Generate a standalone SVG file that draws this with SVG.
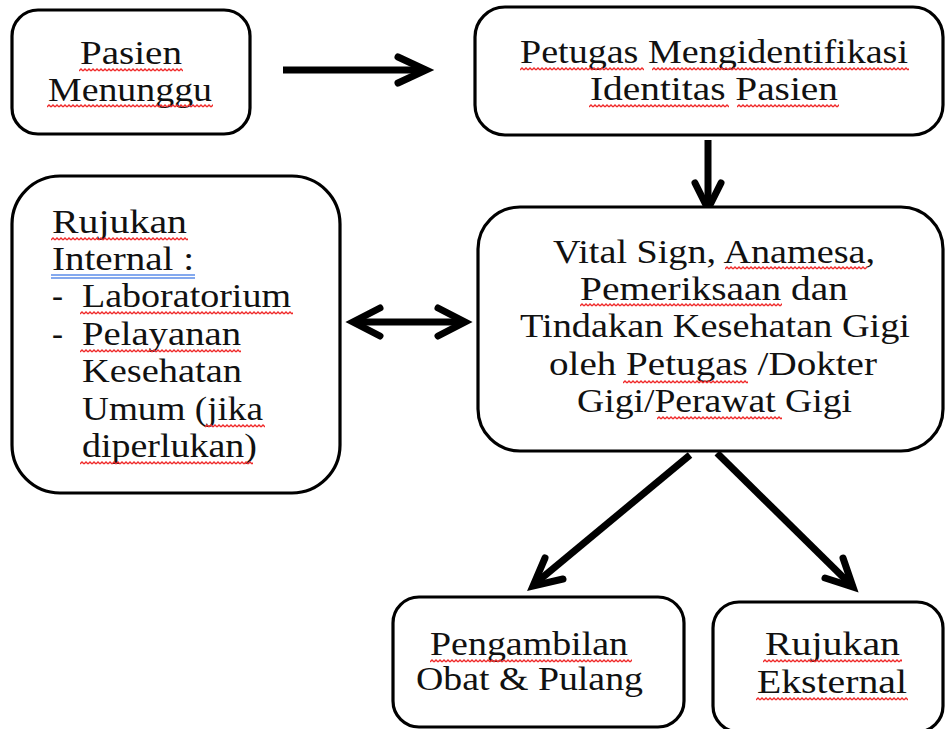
<svg xmlns="http://www.w3.org/2000/svg" width="945" height="729" viewBox="0 0 945 729">
<defs>
<pattern id="wave" patternUnits="userSpaceOnUse" x="0" y="0" width="4" height="4">
  <path d="M0 3 L2 1 L4 3" fill="none" stroke="#f02a2a" stroke-width="1.3"/>
</pattern>
</defs>
<style>
.box{fill:#fff;stroke:#000;stroke-width:3.2}
.t{font-family:"Liberation Serif","Times New Roman",serif;font-size:33px;fill:#111}
.w{fill:url(#wave)}
.gr{stroke:#5b8de8;stroke-width:1.3}
.shaft{fill:none;stroke:#000;stroke-width:7;stroke-linecap:butt}
.head{fill:none;stroke:#000;stroke-width:7;stroke-linecap:round;stroke-linejoin:miter;stroke-miterlimit:10}
</style>
<rect width="945" height="729" fill="#fff"/>
<g id="connectors">
  <line class="shaft" x1="283" y1="70" x2="422" y2="70"/>
  <polyline class="head" points="398,57 426,70 398,83"/>
  <line class="shaft" x1="708" y1="140" x2="708" y2="205"/>
  <polyline class="head" points="695,183 708,209 721,183"/>
  <line class="shaft" x1="357" y1="322" x2="461" y2="322"/>
  <polyline class="head" points="380,308 353,322 380,336"/>
  <polyline class="head" points="438,308 465,322 438,336"/>
  <line class="shaft" x1="690" y1="455" x2="537" y2="582"/>
  <polyline class="head" points="545,558 533,586 563,579"/>
  <line class="shaft" x1="717" y1="453" x2="849" y2="583"/>
  <polyline class="head" points="843,558 853,587 825,578"/>
</g>
<g id="pasien-menunggu">
  <rect class="box" x="12" y="10" width="238" height="124" rx="26"/>
  <text class="t" x="80" y="64" textLength="102" lengthAdjust="spacingAndGlyphs">Pasien</text>
  <text class="t" x="48" y="101" textLength="164" lengthAdjust="spacingAndGlyphs">Menunggu</text>
  <rect class="w" transform="translate(79,68)" width="104" height="4"/>
  <rect class="w" transform="translate(47,104)" width="166" height="4"/>
</g>
<g id="petugas-identifikasi">
  <rect class="box" x="475" y="7" width="468" height="128" rx="30"/>
  <text class="t" x="520" y="63" textLength="388" lengthAdjust="spacingAndGlyphs">Petugas Mengidentifikasi</text>
  <text class="t" x="590" y="100" textLength="248" lengthAdjust="spacingAndGlyphs">Identitas Pasien</text>
  <rect class="w" transform="translate(520,67)" width="124" height="4"/>
  <rect class="w" transform="translate(652,67)" width="257" height="4"/>
  <rect class="w" transform="translate(589,104)" width="140" height="4"/>
  <rect class="w" transform="translate(737,104)" width="102" height="4"/>
</g>
<g id="pemeriksaan">
  <rect class="box" x="478" y="207" width="465" height="244" rx="42"/>
  <text class="t" x="553" y="263" textLength="322" lengthAdjust="spacingAndGlyphs">Vital Sign, Anamesa,</text>
  <text class="t" x="580" y="300" textLength="268" lengthAdjust="spacingAndGlyphs">Pemeriksaan dan</text>
  <text class="t" x="520" y="337" textLength="390" lengthAdjust="spacingAndGlyphs">Tindakan Kesehatan Gigi</text>
  <text class="t" x="549" y="375" textLength="328" lengthAdjust="spacingAndGlyphs">oleh Petugas /Dokter</text>
  <text class="t" x="577" y="412" textLength="275" lengthAdjust="spacingAndGlyphs">Gigi/Perawat Gigi</text>
  <rect class="w" transform="translate(725,266)" width="142" height="4"/>
  <rect class="w" transform="translate(580,303)" width="202" height="4"/>
  <rect class="w" transform="translate(623,380)" width="125" height="4"/>
  <rect class="w" transform="translate(657,416)" width="125" height="4"/>
</g>
<g id="rujukan-internal">
  <rect class="box" x="12" y="176" width="328" height="317" rx="48"/>
  <text class="t" x="52" y="233" textLength="135" lengthAdjust="spacingAndGlyphs">Rujukan</text>
  <text class="t" x="52" y="270" textLength="142" lengthAdjust="spacingAndGlyphs">Internal :</text>
  <text class="t" x="52" y="307">-</text>
  <text class="t" x="82" y="307" textLength="209" lengthAdjust="spacingAndGlyphs">Laboratorium</text>
  <text class="t" x="52" y="345">-</text>
  <text class="t" x="82" y="345" textLength="159" lengthAdjust="spacingAndGlyphs">Pelayanan</text>
  <text class="t" x="82" y="382" textLength="160" lengthAdjust="spacingAndGlyphs">Kesehatan</text>
  <text class="t" x="82" y="420" textLength="181" lengthAdjust="spacingAndGlyphs">Umum (jika</text>
  <text class="t" x="82" y="457" textLength="175" lengthAdjust="spacingAndGlyphs">diperlukan)</text>
  <rect class="w" transform="translate(51,237)" width="137" height="4"/>
  <line class="gr" x1="51" y1="275" x2="195" y2="275"/>
  <line class="gr" x1="51" y1="278" x2="195" y2="278"/>
  <rect class="w" transform="translate(80,311)" width="213" height="4"/>
  <rect class="w" transform="translate(80,349)" width="161" height="4"/>
  <rect class="w" transform="translate(205,424)" width="60" height="4"/>
  <rect class="w" transform="translate(80,461)" width="173" height="4"/>
</g>
<g id="pengambilan-obat">
  <rect class="box" x="393" y="597" width="291" height="130" rx="26"/>
  <text class="t" x="430" y="655" textLength="198" lengthAdjust="spacingAndGlyphs">Pengambilan</text>
  <text class="t" x="416" y="690" textLength="227" lengthAdjust="spacingAndGlyphs">Obat &amp; Pulang</text>
  <rect class="w" transform="translate(430,659)" width="202" height="4"/>
</g>
<g id="rujukan-eksternal">
  <rect class="box" x="713" y="602" width="230" height="130" rx="26"/>
  <text class="t" x="765" y="655" textLength="135" lengthAdjust="spacingAndGlyphs">Rujukan</text>
  <text class="t" x="757" y="693" textLength="150" lengthAdjust="spacingAndGlyphs">Eksternal</text>
  <rect class="w" transform="translate(763,659)" width="139" height="4"/>
  <rect class="w" transform="translate(756,697)" width="152" height="4"/>
</g>
</svg>
